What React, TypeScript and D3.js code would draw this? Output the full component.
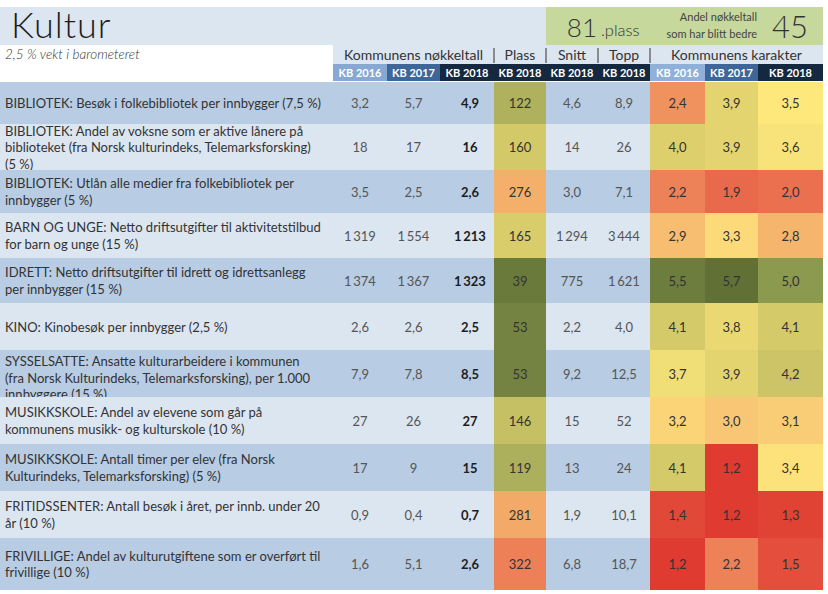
import React from "react";
import * as d3 from "d3";

// ---------- DATA ----------
const indicatorLabels: string[][] = [
  ["BIBLIOTEK: Besøk i folkebibliotek per innbygger (7,5 %)"],
  ["BIBLIOTEK: Andel av voksne som er aktive lånere på", "biblioteket (fra Norsk kulturindeks, Telemarksforsking)", "(5 %)"],
  ["BIBLIOTEK: Utlån alle medier fra folkebibliotek per", "innbygger (5 %)"],
  ["BARN OG UNGE: Netto driftsutgifter til aktivitetstilbud", "for barn og unge (15 %)"],
  ["IDRETT: Netto driftsutgifter til idrett og idrettsanlegg", "per innbygger (15 %)"],
  ["KINO: Kinobesøk per innbygger (2,5 %)"],
  ["SYSSELSATTE: Ansatte kulturarbeidere i kommunen", "(fra Norsk Kulturindeks, Telemarksforsking), per 1.000", "innbyggere (15 %)"],
  ["MUSIKKSKOLE: Andel av elevene som går på", "kommunens musikk- og kulturskole (10 %)"],
  ["MUSIKKSKOLE: Antall timer per elev (fra Norsk", "Kulturindeks, Telemarksforsking) (5 %)"],
  ["FRITIDSSENTER: Antall besøk i året, per innb. under 20", "år (10 %)"],
  ["FRIVILLIGE: Andel av kulturutgiftene som er overført til", "frivillige (10 %)"],
];
const nokkel2016 = [3.2, 18, 3.5, 1319, 1374, 2.6, 7.9, 27, 17, 0.9, 1.6];
const nokkel2017 = [5.7, 17, 2.5, 1554, 1367, 2.6, 7.8, 26, 9, 0.4, 5.1];
const nokkel2018 = [4.9, 16, 2.6, 1213, 1323, 2.5, 8.5, 27, 15, 0.7, 2.6];
const plass2018 = [122, 160, 276, 165, 39, 53, 53, 146, 119, 281, 322];
const snitt2018 = [4.6, 14, 3.0, 1294, 775, 2.2, 9.2, 15, 13, 1.9, 6.8];
const topp2018 = [8.9, 26, 7.1, 3444, 1621, 4.0, 12.5, 52, 24, 10.1, 18.7];
const karakter2016 = [2.4, 4.0, 2.2, 2.9, 5.5, 4.1, 3.7, 3.2, 4.1, 1.4, 1.2];
const karakter2017 = [3.9, 3.9, 1.9, 3.3, 5.7, 3.8, 3.9, 3.0, 1.2, 1.2, 2.2];
const karakter2018 = [3.5, 3.6, 2.0, 2.8, 5.0, 4.1, 4.2, 3.1, 3.4, 1.3, 1.5];
const rowDecimals = [1, 0, 1, 0, 0, 1, 1, 0, 0, 1, 1];
const groupHeaders = ["Kommunens nøkkeltall", "Plass", "Snitt", "Topp", "Kommunens karakter"];
const columnYears = ["KB 2016", "KB 2017", "KB 2018", "KB 2018", "KB 2018", "KB 2018", "KB 2016", "KB 2017", "KB 2018"];
const titleText = "Kultur";
const weightText = "2,5 % vekt i barometeret";
const totalPlass = 81;
const andelBedre = 45;
const andelLabel = ["Andel nøkkeltall", "som har blitt bedre"];
const municipalityCount = 422;

// ---------- LAYOUT / STYLE ----------
const W = 828;
const H = 594;
const colEdges = [333, 387, 440, 494, 546, 598, 650, 705, 758, 823];
const groupSpans = [[0, 3], [3, 4], [4, 5], [5, 6], [6, 9]];
const rowHeights = [42, 46, 43, 45, 45, 47, 47, 47, 47, 47, 52];
const labelShift = [0, 0, 0, 0, 0, 0, 4, 0, 0, 0, 0];
const tableTop = 82;
const FONT = "Lato, 'Open Sans', sans-serif";
const DARK_ROW = "#b8cce4";
const LIGHT_ROW = "#dce6f1";
const NAVY = "#14283f";
const headerFills = ["#86a8d2", "#3e6698", NAVY, NAVY, NAVY, NAVY, "#8fb1d9", "#3e6698", NAVY];

const nb = d3.formatLocale({ decimal: ",", thousands: "\u2009", grouping: [3], currency: ["", ""] });
const fmt = (v: number, d: number) => nb.format(`,.${d}f`)(v);

const gradeColor = d3
  .scaleLinear<string>()
  .domain([1, 2, 3, 3.5, 4, 5, 6])
  .range(["#dc2e28", "#ea7050", "#f8c674", "#fee87c", "#dccf6c", "#8c9a50", "#4e5f2a"])
  .interpolate(d3.interpolateRgb)
  .clamp(true);
const rankToGrade = d3.scaleLinear().domain([1, municipalityCount]).range([6, 1]).clamp(true);

export default function App() {
  const rowEdges = [tableTop];
  rowHeights.forEach((h) => rowEdges.push(rowEdges[rowEdges.length - 1] + h));
  const yRow = d3.scaleOrdinal<number, number>().domain(d3.range(11)).range(rowEdges.slice(0, 11));
  const colX = (i: number) => colEdges[i];
  const colW = (i: number) => colEdges[i + 1] - colEdges[i];
  const colC = (i: number) => (colEdges[i] + colEdges[i + 1]) / 2;
  const lh = 16.5;

  return (
    <svg
      width={W}
      height={H}
      viewBox={`0 0 ${W} ${H}`}
      style={{ position: "absolute", left: 0, top: 0, background: "#fff", fontFamily: FONT }}
    >
      {/* Title band */}
      <rect x={0} y={7} width={546} height={38} fill={LIGHT_ROW} />
      <text x={11} y={38} fontSize={36} fontWeight={300} fill="#1c1c1c" letterSpacing={1}>
        {titleText}
      </text>
      {/* Green summary box */}
      <rect x={546} y={7} width={277} height={38} fill="#c6d89c" />
      <text x={597} y={37} fontSize={26} fontWeight={300} fill="#333" textAnchor="end">
        {totalPlass}
      </text>
      <text x={601} y={36} fontSize={16.5} fontWeight={300} fill="#333">
        .plass
      </text>
      <text x={757} y={21} fontSize={11} fill="#444" textAnchor="end">
        {andelLabel[0]}
      </text>
      <text x={757} y={38} fontSize={11} fill="#444" textAnchor="end">
        {andelLabel[1]}
      </text>
      <text x={790} y={38} fontSize={31} fontWeight={300} fill="#333" textAnchor="middle">
        {andelBedre}
      </text>

      {/* Group header band */}
      <rect x={333} y={45} width={490} height={19} fill={LIGHT_ROW} />
      <text x={5} y={59} fontSize={13.5} fontStyle="italic" fontWeight={300} fill="#333">
        {weightText}
      </text>
      {groupSpans.map(([a, b], gi) => (
        <text
          key={gi}
          x={(colEdges[a] + colEdges[b]) / 2}
          y={60}
          fontSize={14}
          fill="#333"
          textAnchor="middle"
        >
          {groupHeaders[gi]}
        </text>
      ))}
      {groupSpans.slice(0, 4).map(([, b], gi) => (
        <line key={gi} x1={colEdges[b]} x2={colEdges[b]} y1={48} y2={63} stroke="#333" strokeWidth={1} />
      ))}

      {/* Year header row */}
      {columnYears.map((yr, i) => (
        <g key={i}>
          <rect x={colX(i)} y={64} width={colW(i)} height={17} fill={headerFills[i]} />
          <text x={colC(i)} y={76.5} fontSize={11} fontWeight={700} fill="#fff" textAnchor="middle">
            {yr}
          </text>
        </g>
      ))}

      {/* Data rows */}
      {indicatorLabels.map((lines, r) => {
        const y0 = yRow(r);
        const h = rowHeights[r];
        const cy = y0 + h / 2;
        const bg = r % 2 === 0 ? DARK_ROW : LIGHT_ROW;
        const d = rowDecimals[r];
        const numCells = [
          { v: fmt(nokkel2016[r], d), c: 0, fill: bg, color: "#555", bold: false },
          { v: fmt(nokkel2017[r], d), c: 1, fill: bg, color: "#555", bold: false },
          { v: fmt(nokkel2018[r], d), c: 2, fill: bg, color: "#1e1e1e", bold: true },
          { v: fmt(plass2018[r], 0), c: 3, fill: gradeColor(rankToGrade(plass2018[r])), color: "#333", bold: false },
          { v: fmt(snitt2018[r], d), c: 4, fill: bg, color: "#555", bold: false },
          { v: fmt(topp2018[r], d), c: 5, fill: bg, color: "#555", bold: false },
          { v: fmt(karakter2016[r], 1), c: 6, fill: gradeColor(karakter2016[r]), color: "#333", bold: false },
          { v: fmt(karakter2017[r], 1), c: 7, fill: gradeColor(karakter2017[r]), color: "#333", bold: false },
          { v: fmt(karakter2018[r], 1), c: 8, fill: gradeColor(karakter2018[r]), color: "#333", bold: false },
        ];
        const firstY = cy - ((lines.length - 1) * lh) / 2 + labelShift[r];
        return (
          <g key={r}>
            <rect x={0} y={y0} width={333} height={h} fill={bg} />
            <text fontSize={13} fill="#333" dominantBaseline="central">
              {lines.map((ln, li) => (
                <tspan key={li} x={5} y={firstY + li * lh}>
                  {ln}
                </tspan>
              ))}
            </text>
            {numCells.map((cell) => (
              <g key={cell.c}>
                <rect x={colX(cell.c)} y={y0} width={colW(cell.c)} height={h} fill={cell.fill} />
                <text
                  x={cell.c === 2 ? colC(cell.c) + 3 : colC(cell.c)}
                  y={cy}
                  fontSize={13}
                  fontWeight={cell.bold ? 700 : 400}
                  fill={cell.color}
                  textAnchor="middle"
                  dominantBaseline="central"
                >
                  {cell.v}
                </text>
              </g>
            ))}
          </g>
        );
      })}
    </svg>
  );
}
